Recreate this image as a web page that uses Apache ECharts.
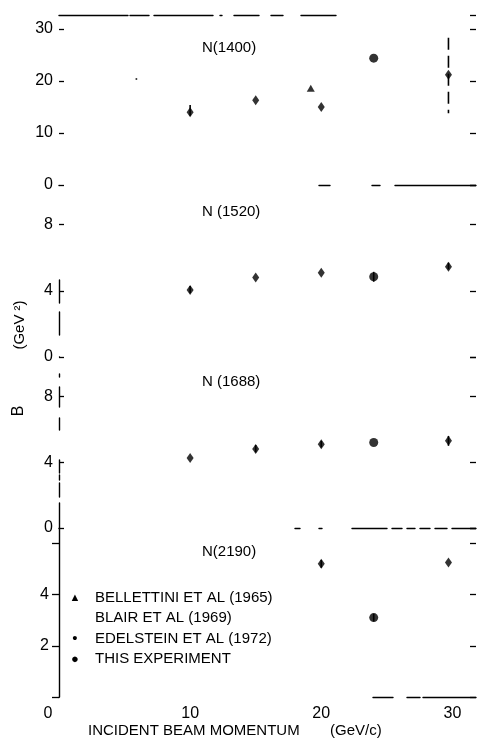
<!DOCTYPE html>
<html>
<head>
<meta charset="utf-8">
<title>B vs incident beam momentum</title>
<script src="https://cdn.jsdelivr.net/npm/echarts@6/dist/echarts.min.js"></script>
<style>
  html, body { margin: 0; padding: 0; background: #fff; }
  #chart { width: 477px; height: 744px; }
</style>
</head>
<body>
<div id="chart"></div>
<script>
// one panel per resonance, top to bottom
var resonances = ['N(1400)', 'N (1520)', 'N (1688)', 'N(2190)'];

// Edelstein et al (1972), small points
var edelsteinMomentum = [10, 15, 20, 29.7];
var edelsteinB = [
  [14.0, 16.3, 15.0, 21.2],
  [4.05, 4.8, 5.1, 5.45],
  [4.25, 4.8, 5.1, 5.3],
  [null, null, 5.2, 5.25]
];

// this experiment, large dots
var thisMomentum = 24.0;
var thisB = [24.4, 4.85, 5.2, 3.1];

// Bellettini et al (1965)
var bellettiniMomentum = [19.2];
var bellettiniB = [18.6];

// Blair et al (1969) - hardly visible in the print
var blairMomentum = [5.9];
var blairB = [20.4];

// error bars: [momentum, low, high]
var errorBars = [
  [[10, 13.3, 15.4], [29.7, 13.8, 28.3]],
  [[10, 3.85, 4.3], [24.0, 4.55, 5.15], [29.7, 5.3, 5.7]],
  [[15, 4.6, 5.05], [20, 4.9, 5.3], [29.7, 5.0, 5.6]],
  [[20, 5.05, 5.35], [24.0, 2.95, 3.25]]
];

// axis ticks
var yMax = [32.7, 10.4, 10.4, 6.6];
var yStep = [10, 4, 4, 2];
var xMax = 31.8;
var xTicks = [0, 10, 20, 30];

var ink = '#000';
var font = 'Liberation Sans';
var tops = [15, 185, 357, 528];
var heights = [170, 172, 171, 169];

var chart = echarts.init(document.getElementById('chart'));

var grids = [], xAxes = [], yAxes = [], series = [], texts = [];

function xAxis(grid, pos, dash, labels) {
  return {
    type: 'value', gridIndex: grid, position: pos, min: 0, max: xMax, interval: 10,
    axisLine: { show: !!dash, onZero: false, lineStyle: { color: ink, width: 1.4, type: dash || 'solid' } },
    axisTick: { show: false },
    splitLine: { show: false },
    axisLabel: {
      show: labels, color: ink, fontFamily: font, fontSize: 16, margin: 9, showMaxLabel: false,
      formatter: function (v) {
        if (xTicks.indexOf(v) < 0) return '';
        return v === 0 ? '{z|0}' : String(v);
      },
      rich: { z: { fontFamily: font, fontSize: 16, color: ink, padding: [0, 22, 0, 0] } }
    }
  };
}

// frame pieces that survive in the print
xAxes.push(xAxis(0, 'bottom', [0, 260, 11, 42, 8, 15, 90, 300], false));
xAxes.push(xAxis(0, 'top', [69, 2, 19, 5, 59, 7, 2, 12, 25, 12, 12, 18, 35, 300], false));
xAxes.push(xAxis(1, 'bottom', null, false));
xAxes.push(xAxis(2, 'bottom', [0, 236, 5, 19, 3, 30, 35, 5, 10, 5, 8, 5, 10, 5, 12, 5, 30, 300], false));
xAxes.push(xAxis(3, 'bottom', [0, 314, 20, 14, 13, 3, 70, 300], true));
var xIndex = [0, 2, 3, 4];

var leftLines = [null, [0, 22, 23, 9, 23, 300], [25, 6, 14, 3, 5, 2, 13, 30, 12, 11, 20, 10, 3, 300], 'solid'];

for (var i = 0; i < 4; i++) {
  grids.push({ left: 59, right: 1, top: tops[i], height: heights[i] });
  (function (i) {
    yAxes.push({
      type: 'value', gridIndex: i, position: 'left', min: 0, max: yMax[i], interval: yStep[i],
      axisLine: { show: !!leftLines[i], onZero: false, lineStyle: { color: ink, width: 1.4, type: leftLines[i] || 'solid' } },
      axisTick: { show: true, inside: i < 3, length: i < 3 ? 5 : 7, lineStyle: { color: ink, width: 1.3 } },
      splitLine: { show: false },
      axisLabel: {
        color: ink, fontFamily: font, fontSize: 16, margin: i < 3 ? 6 : 10, showMaxLabel: false,
        formatter: function (v) {
          if (v % yStep[i] !== 0) return '';
          if (i === 3 && (v === 0 || v === 6)) return '';
          return String(v);
        }
      }
    });
  })(i);
}
for (var i = 0; i < 4; i++) {
  yAxes.push({
    type: 'value', gridIndex: i, position: 'right', min: 0, max: yMax[i], interval: yStep[i],
    axisLine: { show: false, onZero: false },
    axisTick: { show: true, inside: true, length: 6, lineStyle: { color: ink, width: 1.3 } },
    axisLabel: { show: false },
    splitLine: { show: false }
  });
}

function renderBar(params, api) {
  var hi = api.coord([api.value(0), api.value(2)]);
  var lo = api.coord([api.value(0), api.value(1)]);
  var long = lo[1] - hi[1] > 30;
  return {
    type: 'line',
    shape: { x1: hi[0], y1: hi[1], x2: lo[0], y2: lo[1] },
    style: { stroke: ink, lineWidth: 1.6, lineDash: long ? [12, 6] : null }
  };
}

for (var i = 0; i < 4; i++) {
  var pts = [];
  for (var k = 0; k < edelsteinMomentum.length; k++) {
    if (edelsteinB[i][k] !== null) pts.push([edelsteinMomentum[k], edelsteinB[i][k]]);
  }
  series.push({
    type: 'custom', name: 'bars' + i, xAxisIndex: xIndex[i], yAxisIndex: i,
    renderItem: renderBar, encode: { x: 0, y: [1, 2] }, data: errorBars[i], silent: true, z: 1
  });
  series.push({
    type: 'scatter', name: 'EDELSTEIN ET AL (1972)', xAxisIndex: xIndex[i], yAxisIndex: i,
    symbol: 'diamond', symbolSize: [7, 10], itemStyle: { color: ink }, data: pts, z: 3
  });
  series.push({
    type: 'scatter', name: 'THIS EXPERIMENT', xAxisIndex: xIndex[i], yAxisIndex: i,
    symbol: 'circle', symbolSize: 9, itemStyle: { color: ink }, data: [[thisMomentum, thisB[i]]], z: 3
  });
  texts.push({
    type: 'text', x: 202, y: tops[i] + [33, 27, 25, 24][i],
    style: { text: resonances[i], font: '15px "' + font + '"', fill: ink, verticalAlign: 'middle' }
  });
}
series.push({
  type: 'scatter', name: 'BELLETTINI ET AL (1965)', xAxisIndex: 0, yAxisIndex: 0,
  symbol: 'triangle', symbolSize: [8, 7], itemStyle: { color: ink },
  data: bellettiniMomentum.map(function (x, k) { return [x, bellettiniB[k]]; })
});
series.push({
  type: 'scatter', name: 'BLAIR ET AL (1969)', xAxisIndex: 0, yAxisIndex: 0,
  symbol: 'circle', symbolSize: 2, itemStyle: { color: ink },
  data: blairMomentum.map(function (x, k) { return [x, blairB[k]]; })
});

var legendMark = {
  'BELLETTINI ET AL (1965)': '{m1|▲}',
  'BLAIR ET AL (1969)': '{m2| }',
  'EDELSTEIN ET AL (1972)': '{m2|•}',
  'THIS EXPERIMENT': '{m3|●}'
};

texts.push({
  type: 'text', x: 88, y: 731,
  style: { text: 'INCIDENT BEAM MOMENTUM', font: '15px "' + font + '"', fill: ink, verticalAlign: 'middle' }
});
texts.push({
  type: 'text', x: 330, y: 731,
  style: { text: '(GeV/c)', font: '15px "' + font + '"', fill: ink, verticalAlign: 'middle' }
});
texts.push({
  type: 'text', x: 19, y: 411, rotation: Math.PI / 2,
  style: { text: 'B', font: '16px "' + font + '"', fill: ink, align: 'center', verticalAlign: 'middle' }
});
texts.push({
  type: 'text', x: 20, y: 325, rotation: Math.PI / 2,
  style: { text: '(GeV ²)', font: '15px "' + font + '"', fill: ink, align: 'center', verticalAlign: 'middle' }
});

var option = {
  backgroundColor: '#fff',
  animation: false,
  grid: grids,
  xAxis: xAxes,
  yAxis: yAxes,
  legend: {
    orient: 'vertical', left: 55, top: 585, itemGap: 5.5, icon: 'none',
    itemWidth: 5, itemHeight: 10, selectedMode: false,
    data: ['BELLETTINI ET AL (1965)', 'BLAIR ET AL (1969)', 'EDELSTEIN ET AL (1972)', 'THIS EXPERIMENT'],
    formatter: function (name) { return legendMark[name] + '{t|' + name + '}'; },
    textStyle: {
      color: ink,
      rich: {
        m1: { width: 10, align: 'center', fontSize: 11, color: ink, verticalAlign: 'middle', lineHeight: 16 },
        m2: { width: 10, align: 'center', fontSize: 15, color: ink, verticalAlign: 'middle', lineHeight: 16 },
        m3: { width: 10, align: 'center', fontSize: 13, color: ink, verticalAlign: 'middle', lineHeight: 16 },
        t: { fontFamily: font, fontSize: 15, color: ink, padding: [0, 0, 0, 15], lineHeight: 16, verticalAlign: 'middle' }
      }
    }
  },
  graphic: texts,
  series: series
};

chart.setOption(option);
window.onresize = chart.resize;
</script>
</body>
</html>
